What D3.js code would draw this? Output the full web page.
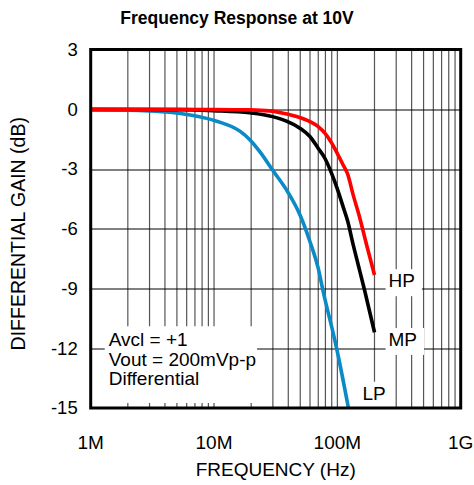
<!DOCTYPE html>
<html>
<head>
<meta charset="utf-8">
<script src="https://cdn.jsdelivr.net/npm/d3@7"></script>
<style>
  body { margin: 0; background: #fff; }
  svg { display: block; font-family: "Liberation Sans", Arial, sans-serif; }
</style>
</head>
<body>
<svg id="chart" width="474" height="485"></svg>
<script>
// Frequency response at 10V: differential gain vs frequency (log x)
const FREQ_TICKS = [1e6, 1e7, 1e8, 1e9];
const FREQ_LABELS = ["1M", "10M", "100M", "1G"];
const GAIN_TICKS = [3, 0, -3, -6, -9, -12, -15];

// values, frequency in MHz, gain in dB
const LP_FREQ = [1, 2, 3, 4.4, 6.4, 10.5, 16.2, 19.5, 23.5, 29.8, 39.5, 49.7, 59.9, 69.9, 76.7, 98.6, 123];
const LP_GAIN = [-0.05, -0.05, -0.08, -0.15, -0.29, -0.6, -1.1, -1.53, -2.13, -3.05, -4.14, -5.3, -6.64, -7.98, -9.14, -12.0, -15.0];

const MP_FREQ = [1, 5, 10, 19.5, 29.8, 39.5, 49.7, 59.9, 69.9, 79.2, 88.6, 99.6, 111.4, 121, 134.3, 152.2, 167, 200];
const MP_GAIN = [0, -0.02, -0.07, -0.18, -0.37, -0.62, -0.95, -1.37, -1.96, -2.46, -3.13, -3.97, -4.9, -5.6, -6.8, -8.14, -9.14, -11.2];

const HP_FREQ = [1, 10, 19.5, 28, 36.4, 49.7, 59.9, 69.9, 79.2, 88.6, 99.6, 111.4, 121, 134.3, 152.2, 172.5, 200];
const HP_GAIN = [0, -0.01, -0.03, -0.08, -0.2, -0.42, -0.62, -0.87, -1.2, -1.63, -2.2, -2.8, -3.25, -4.3, -5.47, -6.8, -8.32];

const SERIES = [
  { key: "LP", freq: LP_FREQ, gain: LP_GAIN, color: "#0a8bc8", label: [160e6, -14.25] },
  { key: "MP", freq: MP_FREQ, gain: MP_GAIN, color: "#000000", label: [260e6, -11.55] },
  { key: "HP", freq: HP_FREQ, gain: HP_GAIN, color: "#ff0000", label: [260e6, -8.6] },
];
const NOTE_LINES = ["Avcl = +1", "Vout = 200mVp-p", "Differential"];

const svg = d3.select("#chart");
const m = { top: 49.5, right: 13.3, bottom: 77, left: 90.7 };
const W = +svg.attr("width") - m.left - m.right;
const H = +svg.attr("height") - m.top - m.bottom;
const g = svg.append("g").attr("transform", `translate(${m.left},${m.top})`);

const x = d3.scaleLog().domain([1e6, 1e9]).range([0, W]);
const y = d3.scaleLinear().domain([-15, 3]).range([H, 0]);

// minor + decade vertical grid
const vgrid = [];
for (let d = 1e6; d < 1e9; d *= 10) for (let k = 2; k <= 10; k++) vgrid.push(d * k);
g.append("g")
  .selectAll("line")
  .data(vgrid.filter((f) => f < 1e9))
  .join("line")
  .attr("x1", (f) => x(f)).attr("x2", (f) => x(f))
  .attr("y1", 0).attr("y2", H)
  .attr("stroke", "#555").attr("stroke-width", 1.2);

g.append("g")
  .selectAll("line")
  .data(GAIN_TICKS.filter((v) => v < 3 && v > -15))
  .join("line")
  .attr("x1", 0).attr("x2", W)
  .attr("y1", (v) => Math.round(y(v)) + 0.5).attr("y2", (v) => Math.round(y(v)) + 0.5)
  .attr("stroke", "#000").attr("stroke-width", 1);

// white masks behind the note and curve labels
const maskG = g.append("g");

// note text
const note = g.append("text")
  .attr("x", x(1.4e6))
  .attr("y", y(-11.9))
  .attr("font-size", 19)
  .attr("fill", "#000");
note.selectAll("tspan")
  .data(NOTE_LINES)
  .join("tspan")
  .attr("x", x(1.4e6))
  .attr("dy", (d, i) => (i ? "1.03em" : 0))
  .text((d) => d);

// curves
const line = d3.line()
  .x((d) => x(d[0] * 1e6))
  .y((d) => y(d[1]))
  .curve(d3.curveMonotoneX);

g.append("g")
  .selectAll("path")
  .data(SERIES)
  .join("path")
  .attr("fill", "none")
  .attr("stroke", (s) => s.color)
  .attr("stroke-width", 3.6)
  .attr("d", (s) => line(s.freq.map((f, i) => [f, s.gain[i]])));

const labels = g.append("g")
  .selectAll("text")
  .data(SERIES)
  .join("text")
  .attr("x", (s) => x(s.label[0]))
  .attr("y", (s) => y(s.label[1]))
  .attr("dy", "0.35em")
  .attr("font-size", 19)
  .text((s) => s.key);

// masks from text boxes
labels.each(function () {
  const b = this.getBBox();
  maskG.append("rect")
    .attr("x", b.x - 3).attr("y", b.y - 1)
    .attr("width", b.width + 10).attr("height", b.height + 6)
    .attr("fill", "#fff");
});
{
  const b = note.node().getBBox();
  maskG.append("rect")
    .attr("x", b.x - 4).attr("y", b.y - 3)
    .attr("width", b.width + 5).attr("height", y(-15) - 5 - (b.y - 3))
    .attr("fill", "#fff");
}

// frame
g.append("rect")
  .attr("width", W).attr("height", H)
  .attr("fill", "none").attr("stroke", "#000").attr("stroke-width", 3);

// tick labels
g.append("g")
  .selectAll("text")
  .data(FREQ_TICKS)
  .join("text")
  .attr("x", (f) => x(f))
  .attr("y", H + 41)
  .attr("text-anchor", "middle")
  .attr("font-size", 19)
  .text((f, i) => FREQ_LABELS[i]);

g.append("g")
  .selectAll("text")
  .data(GAIN_TICKS)
  .join("text")
  .attr("x", -13)
  .attr("y", (v) => y(v))
  .attr("dy", "0.35em")
  .attr("text-anchor", "end")
  .attr("font-size", 18.5)
  .text((v) => v);

// titles
svg.append("text")
  .attr("x", 237).attr("y", 24)
  .attr("text-anchor", "middle")
  .attr("font-size", 17.5).attr("font-weight", "bold")
  .text("Frequency Response at 10V");

svg.append("text")
  .attr("x", m.left + W / 2).attr("y", 476)
  .attr("text-anchor", "middle")
  .attr("font-size", 19)
  .text("FREQUENCY (Hz)");

svg.append("text")
  .attr("transform", `translate(25,${m.top + H / 2 + 5}) rotate(-90)`)
  .attr("text-anchor", "middle")
  .attr("font-size", 19.5)
  .text("DIFFERENTIAL GAIN (dB)");
</script>
</body>
</html>
